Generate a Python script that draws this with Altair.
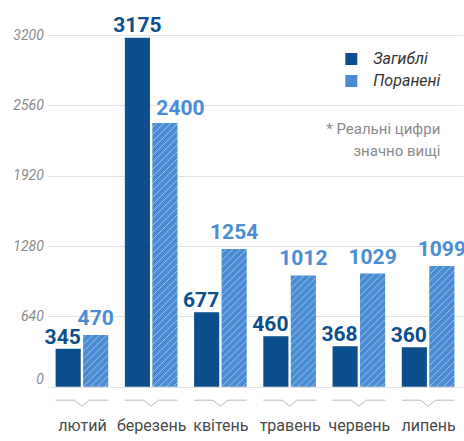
import json
import altair as alt
import pandas as pd

# ---------------- data ----------------
months = ["лютий", "березень", "квітень", "травень", "червень", "липень"]
killed = [345, 3175, 677, 460, 368, 360]
wounded = [470, 2400, 1254, 1012, 1029, 1099]
series_names = ["Загиблі", "Поранені"]
y_ticks = [0, 640, 1280, 1920, 2560, 3200]
note_lines = ["* Реальні цифри", "значно вищі"]

# ---------------- layout constants (pixels) ----------------
PAD_L, PAD_T, PAD_R, PAD_B = 47.3, 35, 1.3, 54.3
W = 464 - PAD_L - PAD_R
H = 441 - PAD_T - PAD_B
YMAX = 3200
KX = W / len(months)      # px per category unit
KY = H / YMAX             # px per value unit
OUT = 0.38                # outer bar edge, category units
INN = 0.017               # inner bar edge, category units
HATCH = 7.0               # hatch spacing px
VW = 7.5 / KX             # half-width of the V notch
VTOP = 13.5               # px below baseline
VDEEP = 19.5              # px below baseline
LPAD = 4.0 / KX           # label inset when left-aligned

DARK = "#0c4f8c"
LIGHT = "#4a8cd3"
LIGHT_TXT = "#4a8dd4"

records = []
for i, m in enumerate(months):
    records.append({"idx": i, "month": m, "series": series_names[0], "value": killed[i], "side": -1})
    records.append({"idx": i, "month": m, "series": series_names[1], "value": wounded[i], "side": 1})
df = pd.DataFrame(records)
mdf = pd.DataFrame({"idx": list(range(len(months))), "month": months})

xscale = alt.Scale(domain=[-0.5, len(months) - 0.5], nice=False, zero=False)
yscale = alt.Scale(domain=[0, YMAX], nice=False, zero=True)

x_axis = alt.Axis(
    values=list(range(len(months))),
    labelExpr=f"{json.dumps(months, ensure_ascii=False)}[datum.value]",
    title=None, grid=False, domain=False, ticks=False, tickSize=0,
    labelFlush=False, labelOverlap=False, labelBound=False,
    labelPadding=43.3, labelBaseline="alphabetic",
    labelFont="Roboto", labelFontSize=16, labelColor="#4a4a4a",
)
y_axis = alt.Axis(
    values=y_ticks, format="d", title=None, domain=False, ticks=False,
    labelFont="Roboto", labelFontStyle="italic", labelFontSize=14,
    labelColor="#8a8a8a", labelPadding=4,
    gridColor="#e2e2e2", gridWidth=1,
    labelBaseline={"condition": {"test": "datum.value == 0", "value": "bottom"}, "value": "middle"},
)

legend = alt.Legend(
    title=note_lines, orient="none", legendX=279, legendY=16, direction="vertical",
    symbolType="square", symbolSize=144, symbolStrokeWidth=0, symbolOpacity=1,
    labelFont="Roboto", labelFontStyle="italic", labelFontSize=16, labelColor="#333333",
    labelOffset=14, rowPadding=6, padding=0,
    titleOrient="bottom", titleAnchor="end", titleAlign="right",
    titleFont="Roboto", titleFontSize=15, titleFontWeight="normal",
    titleColor="#8a8a8a", titleLineHeight=22, titlePadding=33, titleLimit=300,
)

base = alt.Chart(df).transform_calculate(
    x0=f"datum.idx + (datum.side < 0 ? {-OUT} : {INN})",
    x1=f"datum.idx + (datum.side < 0 ? {-INN} : {OUT})",
).transform_calculate(
    xc="(datum.x0 + datum.x1) / 2"
).transform_joinaggregate(
    maxv="max(value)", groupby=["idx"]
).transform_calculate(
    taller="datum.value == datum.maxv ? 1 : 0"
)

bars = base.mark_rect().encode(
    x=alt.X("x0:Q", scale=xscale, axis=x_axis),
    x2="x1:Q",
    y=alt.Y("value:Q", scale=yscale, axis=y_axis),
    y2=alt.datum(0),
    color=alt.Color("series:N", scale=alt.Scale(domain=series_names, range=[DARK, LIGHT]), legend=legend),
)

hatch = base.transform_filter("datum.side > 0").transform_calculate(
    hb=f"datum.value * {KY}",
    bw=f"(datum.x1 - datum.x0) * {KX}",
    ks="sequence(-60, 8)",
).transform_flatten(["ks"], as_=["k"]).transform_calculate(
    c=f"datum.k * {HATCH}",
).transform_calculate(
    us="max(0, datum.c)",
    ue="min(datum.bw, datum.hb + datum.c)",
).transform_filter("datum.ue - datum.us > 0.3").transform_calculate(
    hx0=f"datum.x0 + datum.us / {KX}",
    hx1=f"datum.x0 + datum.ue / {KX}",
    hy0=f"(datum.us - datum.c) / {KY}",
    hy1=f"(datum.ue - datum.c) / {KY}",
).mark_rule(color="white", strokeWidth=1, opacity=0.45).encode(
    x=alt.X("hx0:Q", scale=xscale, axis=x_axis),
    x2="hx1:Q",
    y=alt.Y("hy0:Q", scale=yscale, axis=y_axis),
    y2="hy1:Q",
)

vee = alt.Chart(mdf).transform_calculate(ps="sequence(0, 5)").transform_flatten(
    ["ps"], as_=["p"]
).transform_calculate(
    vx=f"datum.idx + (datum.p == 0 ? {-OUT} : datum.p == 1 ? {-VW} : datum.p == 2 ? 0 : datum.p == 3 ? {VW} : {OUT})",
    vy=f"datum.p == 2 ? {-VDEEP / KY} : {-VTOP / KY}",
).mark_line(color="#b8b8b8", strokeWidth=1).encode(
    x=alt.X("vx:Q", scale=xscale, axis=x_axis),
    y=alt.Y("vy:Q", scale=yscale, axis=y_axis),
    detail="month:N",
    order="p:Q",
)


def label_layer(flt, xfield, align, color, dy):
    return base.transform_filter(flt).transform_calculate(
        xl=f"datum.x0 + {LPAD}"
    ).mark_text(
        font="Roboto", fontWeight="bold", fontSize=21, color=color,
        baseline="alphabetic", align=align, dy=dy,
    ).encode(
        x=alt.X(f"{xfield}:Q", scale=xscale, axis=x_axis),
        y=alt.Y("value:Q", scale=yscale, axis=y_axis),
        text=alt.Text("value:Q", format="d"),
    )


# dark labels: centred when taller, otherwise flush right with the bar
lab_dark_c = label_layer("datum.side < 0 && datum.taller == 1", "xc", "center", DARK, -6)
lab_dark_r = label_layer("datum.side < 0 && datum.taller == 0", "x1", "right", DARK, -5)
# light labels: centred when taller, otherwise flush left with the bar
lab_light_c = label_layer("datum.side > 0 && datum.taller == 1", "xc", "center", LIGHT_TXT, -10)
lab_light_l = label_layer("datum.side > 0 && datum.taller == 0", "xl", "left", LIGHT_TXT, -8)

chart = alt.layer(
    bars, hatch, vee, lab_dark_c, lab_dark_r, lab_light_c, lab_light_l
).properties(
    width=W, height=H,
    autosize=alt.AutoSizeParams(type="none"),
    padding={"left": PAD_L, "top": PAD_T, "right": PAD_R, "bottom": PAD_B},
    background="white",
).configure_view(stroke=None)

chart.save("out.html", embed_options={"renderer": "svg", "actions": False})
